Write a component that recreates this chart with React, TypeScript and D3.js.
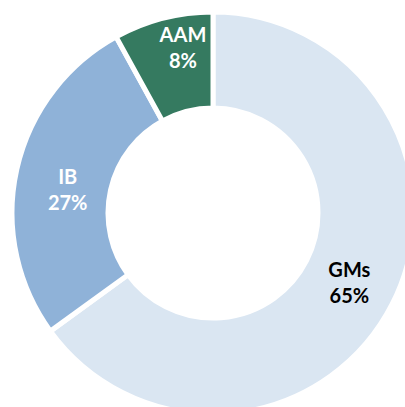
import React, { useRef, useEffect } from "react";
import * as d3 from "d3";

const categories = ["GMs", "IB", "AAM"];
const shares = [65, 27, 8];
const colors = ["#dae6f2", "#8fb2d8", "#357a60"];
const labelColors = ["#000000", "#ffffff", "#ffffff"];
// label nudges (px) relative to the arc centroid, like Excel's placement
const nudgeX = [0, 4, 8];
const nudgeY = [0, 9, -18];

export default function App() {
  const svgRef = useRef<SVGSVGElement>(null);

  useEffect(() => {
    const svg = d3.select(svgRef.current);
    svg.selectAll("*").remove();

    const cx = 213;
    const cy = 213;
    const outer = 201;
    const inner = 105;

    const pie = d3.pie<number>().sort(null).value((d) => d);
    const arcs = pie(shares);

    const arc = d3.arc<d3.PieArcDatum<number>>().innerRadius(inner).outerRadius(outer);
    const labelArc = d3
      .arc<d3.PieArcDatum<number>>()
      .innerRadius(153)
      .outerRadius(153);

    const g = svg.append("g").attr("transform", `translate(${cx},${cy})`);

    g.selectAll("path")
      .data(arcs)
      .join("path")
      .attr("d", arc)
      .attr("fill", (d, i) => colors[i])
      .attr("stroke", "#ffffff")
      .attr("stroke-width", 5);

    const labels = g
      .selectAll("text")
      .data(arcs)
      .join("text")
      .attr("transform", (d, i) => {
        const [x, y] = labelArc.centroid(d);
        return `translate(${x + nudgeX[i]},${y + nudgeY[i]})`;
      })
      .attr("text-anchor", "middle")
      .attr("font-family", "Lato, 'Open Sans', sans-serif")
      .attr("font-weight", "bold")
      .attr("font-size", 20)
      .attr("fill", (d, i) => labelColors[i]);

    labels
      .append("tspan")
      .attr("x", 0)
      .attr("dy", "-0.25em")
      .text((d, i) => categories[i]);
    labels
      .append("tspan")
      .attr("x", 0)
      .attr("dy", 26)
      .text((d) => d.data + "%");
  }, []);

  return (
    <svg
      ref={svgRef}
      width={405}
      height={407}
      style={{ position: "absolute", left: 0, top: 0 }}
    />
  );
}
